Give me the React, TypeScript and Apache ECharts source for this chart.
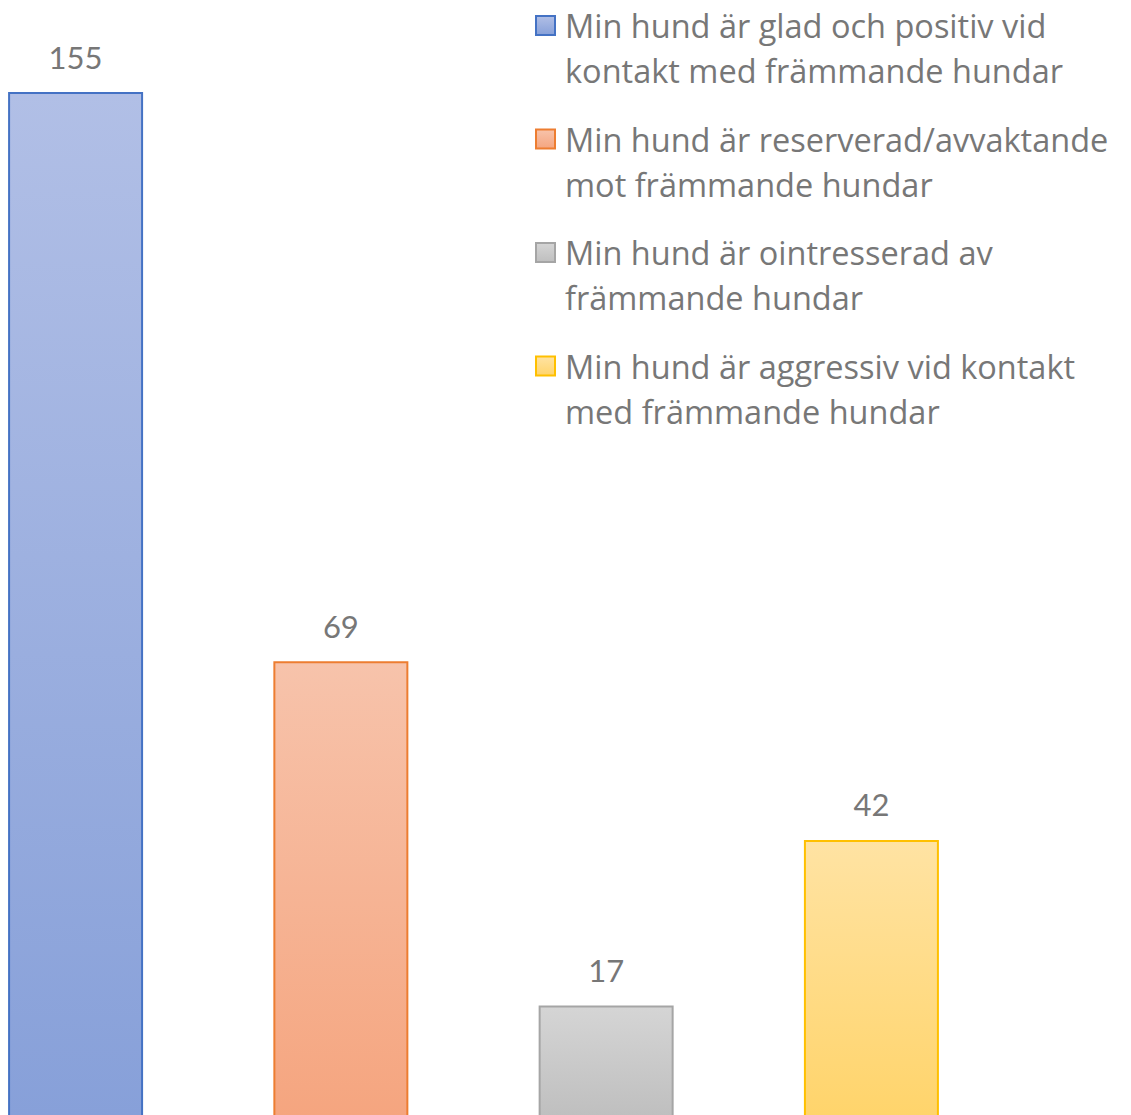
import React, { useEffect, useRef } from "react";
import * as echarts from "echarts";

const categories = [""];
const seriesNames = [
  "Min hund är glad och positiv vid kontakt med främmande hundar",
  "Min hund är reserverad/avvaktande mot främmande hundar",
  "Min hund är ointresserad av främmande hundar",
  "Min hund är aggressiv vid kontakt med främmande hundar",
];
const legendLines = [
  ["Min hund är glad och positiv vid", "kontakt med främmande hundar"],
  ["Min hund är reserverad/avvaktande", "mot främmande hundar"],
  ["Min hund är ointresserad av", "främmande hundar"],
  ["Min hund är aggressiv vid kontakt", "med främmande hundar"],
];
const values = [155, 69, 17, 42];
const topColors = ["#B1BFE6", "#F7C3AB", "#D5D5D5", "#FFE3A3"];
const bottomColors = ["#87A0D9", "#F5A57F", "#BFBFBF", "#FFD46B"];
const borderColors = ["#4472C4", "#ED7D31", "#A5A5A5", "#FFC000"];

const TEXT = "#777777";
const LABEL_FONT = "Lato, 'Open Sans', sans-serif";
const LEGEND_FONT = "'Open Sans', Lato, sans-serif";

export default function App() {
  const ref = useRef<HTMLDivElement>(null);
  useEffect(() => {
    if (!ref.current) return;
    const chart = echarts.init(ref.current, undefined, { renderer: "svg" });
    const series = seriesNames.map((name, i) => ({
      name,
      type: "bar",
      data: [values[i]],
      barWidth: 135,
      barGap: "96.5%",
      itemStyle: {
        color: new echarts.graphic.LinearGradient(0, 0, 0, 1, [
          { offset: 0, color: topColors[i] },
          { offset: 1, color: bottomColors[i] },
        ]),
        borderColor: borderColors[i],
        borderWidth: 2,
      },
      label: {
        show: true,
        position: "top",
        distance: 20,
        fontSize: 31,
        fontFamily: LABEL_FONT,
        color: TEXT,
      },
    }));
    chart.setOption({
      animation: false,
      grid: { left: 0, right: 184, top: 92, bottom: 0, containLabel: false },
      xAxis: {
        type: "category",
        data: categories,
        show: false,
      },
      yAxis: { type: "value", min: 0, max: 155, show: false },
      legend: {
        orient: "vertical",
        left: 535,
        top: -42,
        padding: 0,
        itemGap: -21.5,
        itemWidth: 19,
        itemHeight: 19,
        icon: "rect",
        data: seriesNames,
        formatter: (name: string) =>
          "\n" + legendLines[seriesNames.indexOf(name)].join("\n"),
        textStyle: {
          fontSize: 32.5,
          lineHeight: 45,
          fontFamily: LEGEND_FONT,
          color: TEXT,
          padding: [0, 0, 0, 5],
        },
      },
      series,
    });
    return () => chart.dispose();
  }, []);
  return (
    <div
      ref={ref}
      style={{ position: "absolute", left: 0, top: 0, width: 1131, height: 1118 }}
    />
  );
}
